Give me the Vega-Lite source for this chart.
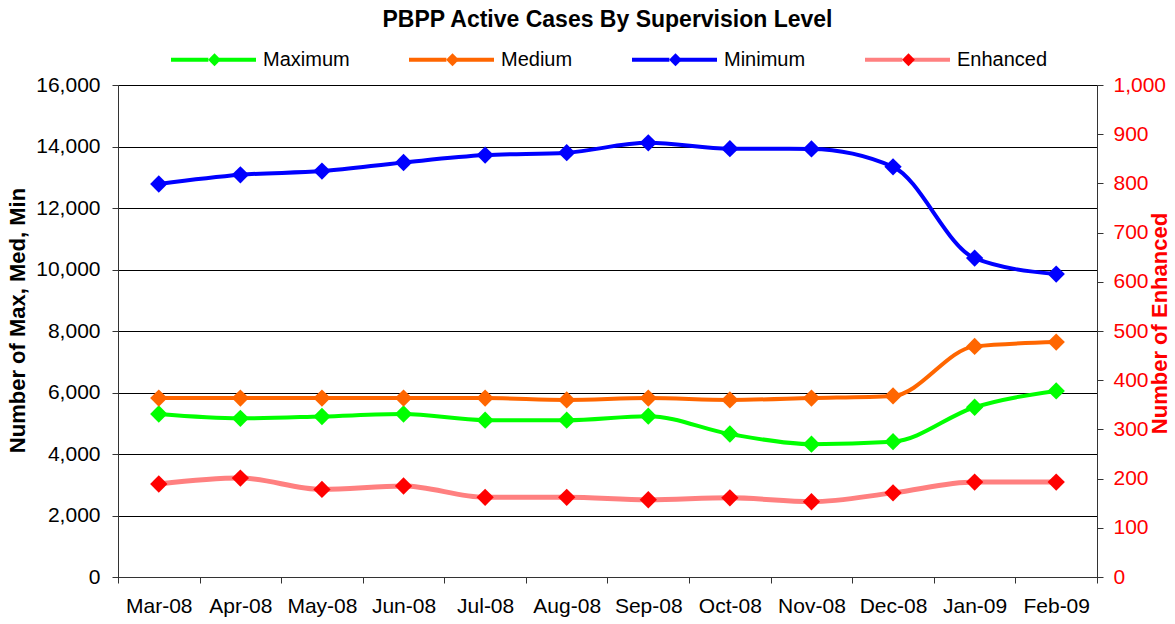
{
  "$schema": "https://vega.github.io/schema/vega-lite/v6.json",
  "width": 979,
  "height": 492,
  "autosize": {"type": "none"},
  "padding": {"left": 118, "top": 85, "right": 78, "bottom": 47},
  "background": "white",
  "config": {
    "view": {"stroke": "#808080", "strokeWidth": 1},
    "font": "Liberation Sans"
  },
  "title": {
    "text": "PBPP Active Cases By Supervision Level",
    "fontSize": 23,
    "fontWeight": "bold",
    "font": "Liberation Sans",
    "color": "black",
    "anchor": "middle",
    "offset": -17
  },
  "data": {
    "values": [
      {"m": "Mar-08", "s": "Maximum", "v": 5300}, {"m": "Apr-08", "s": "Maximum", "v": 5160}, {"m": "May-08", "s": "Maximum", "v": 5220}, {"m": "Jun-08", "s": "Maximum", "v": 5300}, {"m": "Jul-08", "s": "Maximum", "v": 5100}, {"m": "Aug-08", "s": "Maximum", "v": 5100}, {"m": "Sep-08", "s": "Maximum", "v": 5230}, {"m": "Oct-08", "s": "Maximum", "v": 4650}, {"m": "Nov-08", "s": "Maximum", "v": 4320}, {"m": "Dec-08", "s": "Maximum", "v": 4400}, {"m": "Jan-09", "s": "Maximum", "v": 5520}, {"m": "Feb-09", "s": "Maximum", "v": 6050},
      {"m": "Mar-08", "s": "Medium", "v": 5820}, {"m": "Apr-08", "s": "Medium", "v": 5820}, {"m": "May-08", "s": "Medium", "v": 5820}, {"m": "Jun-08", "s": "Medium", "v": 5820}, {"m": "Jul-08", "s": "Medium", "v": 5820}, {"m": "Aug-08", "s": "Medium", "v": 5760}, {"m": "Sep-08", "s": "Medium", "v": 5820}, {"m": "Oct-08", "s": "Medium", "v": 5760}, {"m": "Nov-08", "s": "Medium", "v": 5820}, {"m": "Dec-08", "s": "Medium", "v": 5890}, {"m": "Jan-09", "s": "Medium", "v": 7500}, {"m": "Feb-09", "s": "Medium", "v": 7640},
      {"m": "Mar-08", "s": "Minimum", "v": 12780}, {"m": "Apr-08", "s": "Minimum", "v": 13080}, {"m": "May-08", "s": "Minimum", "v": 13200}, {"m": "Jun-08", "s": "Minimum", "v": 13480}, {"m": "Jul-08", "s": "Minimum", "v": 13720}, {"m": "Aug-08", "s": "Minimum", "v": 13800}, {"m": "Sep-08", "s": "Minimum", "v": 14120}, {"m": "Oct-08", "s": "Minimum", "v": 13930}, {"m": "Nov-08", "s": "Minimum", "v": 13920}, {"m": "Dec-08", "s": "Minimum", "v": 13340}, {"m": "Jan-09", "s": "Minimum", "v": 10370}, {"m": "Feb-09", "s": "Minimum", "v": 9850},
      {"m": "Mar-08", "s": "Enhanced", "v": 189}, {"m": "Apr-08", "s": "Enhanced", "v": 201}, {"m": "May-08", "s": "Enhanced", "v": 178}, {"m": "Jun-08", "s": "Enhanced", "v": 185}, {"m": "Jul-08", "s": "Enhanced", "v": 162}, {"m": "Aug-08", "s": "Enhanced", "v": 162}, {"m": "Sep-08", "s": "Enhanced", "v": 157}, {"m": "Oct-08", "s": "Enhanced", "v": 161}, {"m": "Nov-08", "s": "Enhanced", "v": 153}, {"m": "Dec-08", "s": "Enhanced", "v": 171}, {"m": "Jan-09", "s": "Enhanced", "v": 193}, {"m": "Feb-09", "s": "Enhanced", "v": 193}
    ]
  },
  "encoding": {
    "x": {
      "field": "m",
      "type": "ordinal",
      "sort": ["Mar-08", "Apr-08", "May-08", "Jun-08", "Jul-08", "Aug-08", "Sep-08", "Oct-08", "Nov-08", "Dec-08", "Jan-09", "Feb-09"],
      "scale": {"type": "band", "paddingInner": 0, "paddingOuter": 0},
      "bandPosition": 0.5,
      "axis": {
        "title": null,
        "tickBand": "extent",
        "grid": false,
        "labelAngle": 0,
        "labelFontSize": 21,
        "labelFont": "Liberation Sans",
        "labelColor": "black",
        "labelPadding": 12,
        "tickSize": 6,
        "tickColor": "#333",
        "domainColor": "#333"
      }
    }
  },
  "layer": [
    {
      "transform": [{"filter": "datum.s !== 'Enhanced'"}],
      "encoding": {
        "y": {
          "field": "v",
          "type": "quantitative",
          "scale": {"domain": [0, 16000], "nice": false},
          "axis": {
            "title": "Number of Max, Med, Min",
            "titleFontSize": 22,
            "titleFontWeight": "bold",
            "titleFont": "Liberation Sans",
            "titleColor": "black",
            "titlePadding": 6,
            "titleY": 235,
            "values": [0, 2000, 4000, 6000, 8000, 10000, 12000, 14000, 16000],
            "format": ",.0f",
            "labelFontSize": 21,
            "labelFont": "Liberation Sans",
            "labelColor": "black",
            "labelPadding": 12,
            "tickSize": 6,
            "tickColor": "#333",
            "domainColor": "#333",
            "grid": true,
            "gridColor": "black",
            "gridWidth": 1
          }
        }
      },
      "layer": [
        {
          "mark": {"type": "line", "interpolate": "monotone", "strokeWidth": 4},
          "encoding": {
            "stroke": {
              "field": "s",
              "type": "nominal",
              "scale": {"domain": ["Maximum", "Medium", "Minimum", "Enhanced"], "range": ["#00ff00", "#ff6600", "#0000ff", "#ff8080"]},
              "legend": {
                "orient": "none",
                "legendX": 51,
                "legendY": -70,
                "direction": "horizontal",
                "title": null,
                "values": ["Maximum", "Medium", "Minimum", "Enhanced"],
                "symbolType": "M-1,0H-0.12M0.12,0H1",
                "symbolSize": 7225,
                "symbolStrokeWidth": 4,
                "labelFontSize": 20,
                "labelFont": "Liberation Sans",
                "labelColor": "black",
                "labelOffset": 5,
                "columnPadding": 51
              }
            }
          }
        },
        {
          "mark": {"type": "point", "filled": true, "shape": "diamond", "size": 300, "opacity": 1},
          "encoding": {
            "fill": {
              "field": "s",
              "type": "nominal",
              "scale": {"domain": ["Enhanced", "Maximum", "Medium", "Minimum"], "range": ["#ff0000", "#00ff00", "#ff6600", "#0000ff"]},
              "legend": {
                "orient": "none",
                "legendX": 52,
                "legendY": -70,
                "direction": "horizontal",
                "title": null,
                "values": ["Maximum", "Medium", "Minimum", "Enhanced"],
                "symbolType": "M0,-0.145L0.145,0L0,0.145L-0.145,0Z",
                "symbolSize": 7921,
                "symbolStrokeWidth": 0,
                "labelFontSize": 20,
                "labelFont": "Liberation Sans",
                "labelColor": "black",
                "labelOpacity": 0,
                "labelOffset": 5,
                "columnPadding": 57
              }
            }
          }
        }
      ]
    },
    {
      "transform": [{"filter": "datum.s === 'Enhanced'"}],
      "encoding": {
        "y": {
          "field": "v",
          "type": "quantitative",
          "scale": {"domain": [0, 1000], "nice": false},
          "axis": {
            "orient": "right",
            "title": "Number of Enhanced",
            "titleFontSize": 22,
            "titleFontWeight": "bold",
            "titleFont": "Liberation Sans",
            "titleColor": "red",
            "titleAngle": 270,
            "titlePadding": 6,
            "titleY": 238,
            "values": [0, 100, 200, 300, 400, 500, 600, 700, 800, 900, 1000],
            "format": ",.0f",
            "labelFontSize": 21,
            "labelFont": "Liberation Sans",
            "labelColor": "red",
            "labelPadding": 10,
            "tickSize": 6,
            "tickColor": "#333",
            "domainColor": "#333",
            "grid": false
          }
        }
      },
      "layer": [
        {
          "mark": {"type": "line", "interpolate": "monotone", "strokeWidth": 5},
          "encoding": {"stroke": {"field": "s", "type": "nominal"}}
        },
        {
          "mark": {"type": "point", "filled": true, "shape": "diamond", "size": 300, "opacity": 1},
          "encoding": {"fill": {"field": "s", "type": "nominal"}}
        }
      ]
    }
  ],
  "resolve": {"scale": {"y": "independent"}}
}
